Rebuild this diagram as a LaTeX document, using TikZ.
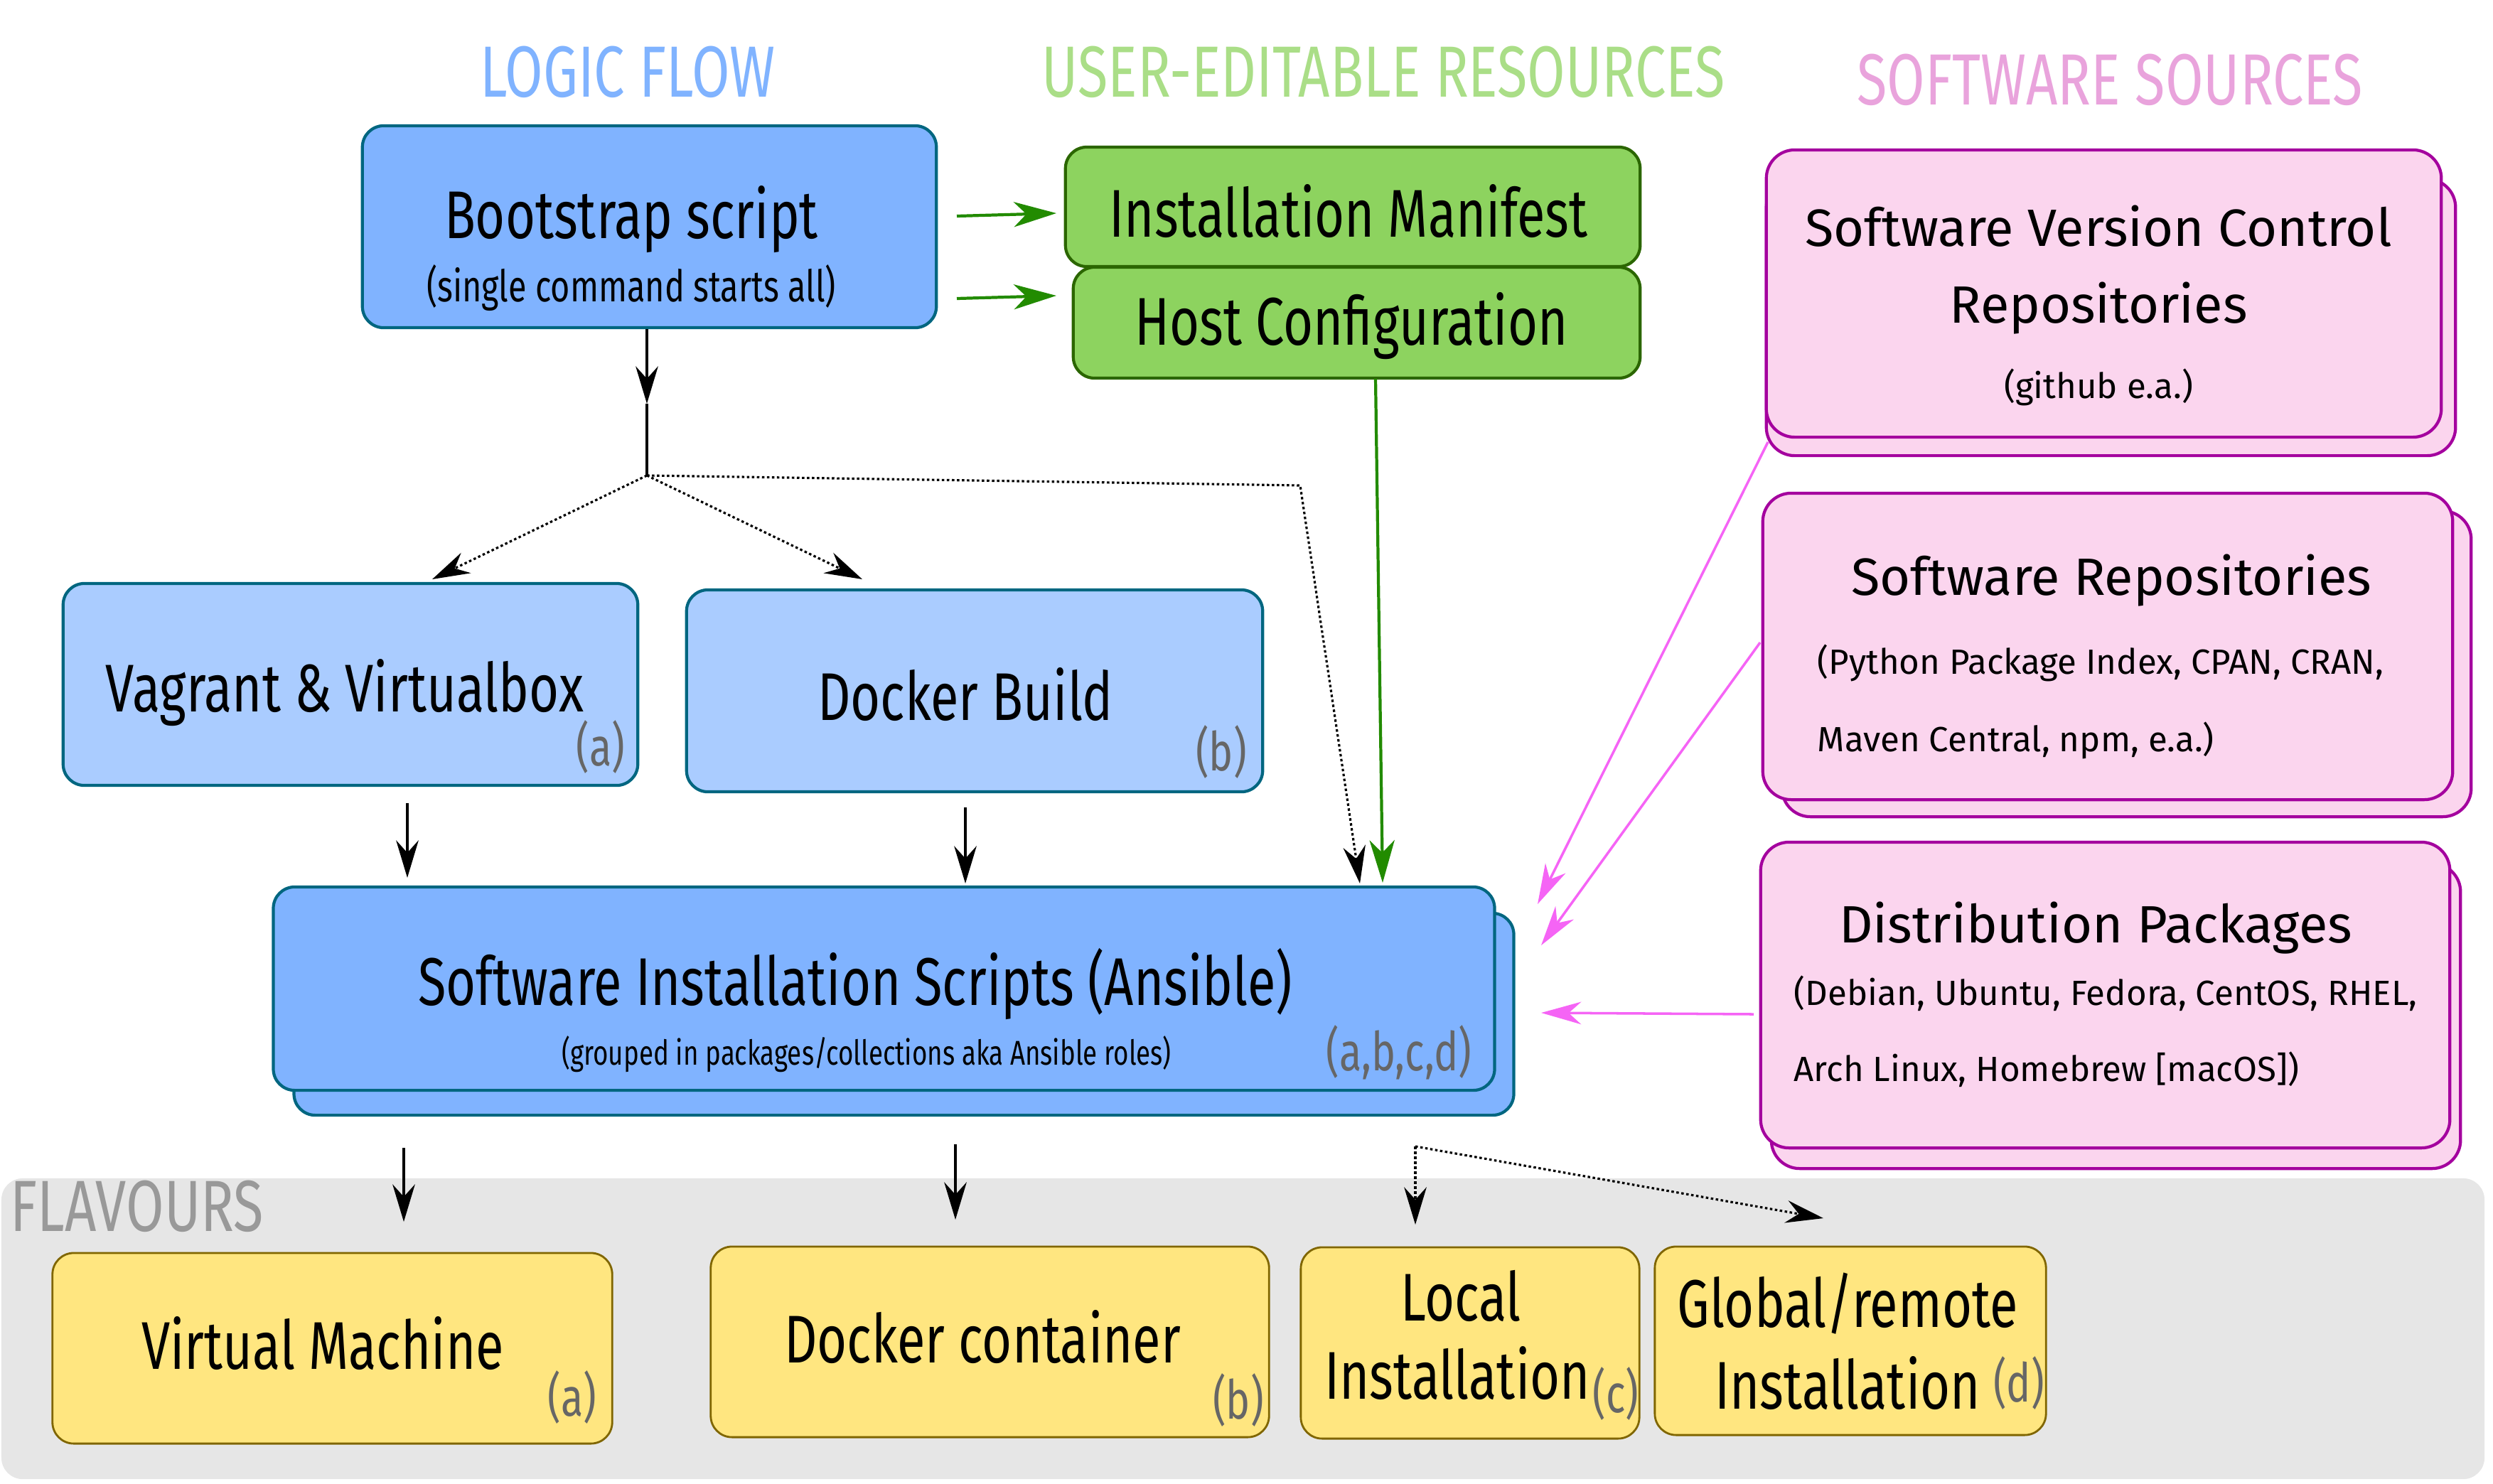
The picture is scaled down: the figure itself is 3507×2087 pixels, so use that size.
\documentclass[tikz,border=0pt]{standalone}
\usepackage{fontspec}
\setmainfont{Fira Sans}
\newfontfamily\cond[FakeStretch=0.76]{Fira Sans}
\newfontfamily\plain{Fira Sans}
\usetikzlibrary{arrows.meta}
\definecolor{cblue}{RGB}{128,179,255}
\definecolor{clblue}{RGB}{170,204,255}
\definecolor{cbborder}{RGB}{0,102,128}
\definecolor{cgreen}{RGB}{141,211,95}
\definecolor{cgborder}{RGB}{43,102,0}
\definecolor{cgarrow}{RGB}{34,139,0}
\definecolor{cpink}{RGB}{251,213,238}
\definecolor{cpborder}{RGB}{164,0,158}
\definecolor{cparrow}{RGB}{245,100,245}
\definecolor{cyellow}{RGB}{255,230,128}
\definecolor{cyborder}{RGB}{128,102,0}
\definecolor{cgrey}{RGB}{230,230,230}
\definecolor{ctblue}{RGB}{128,179,255}
\definecolor{ctgreen}{RGB}{170,222,135}
\definecolor{ctpink}{RGB}{233,163,220}
\definecolor{cletter}{RGB}{102,102,102}
\definecolor{cflav}{RGB}{153,153,153}
\begin{document}
\begin{tikzpicture}[x=0.01cm,y=-0.01cm,
  box/.style={draw, rounded corners=0.3cm, line width=1.2pt, inner sep=0pt},
  bluebox/.style={box, fill=cblue, draw=cbborder},
  lbluebox/.style={box, fill=clblue, draw=cbborder},
  greenbox/.style={box, fill=cgreen, draw=cgborder},
  pinkbox/.style={box, rounded corners=0.4cm, fill=cpink, draw=cpborder},
  yellowbox/.style={box, fill=cyellow, draw=cyborder, line width=0.8pt},
  greyzone/.style={fill=cgrey, draw=none, rounded corners=0.3cm, inner sep=0pt},
  tbig/.style={font=\cond\fontsize{27}{31}\selectfont, inner sep=0pt},
  tsmall/.style={font=\cond\fontsize{17.5}{21}\selectfont, inner sep=0pt},
  tsub/.style={font=\cond\fontsize{13.75}{16}\selectfont, inner sep=0pt},
  tletter/.style={font=\cond\fontsize{21.5}{25}\selectfont, text=cletter, inner sep=0pt},
  tpink/.style={font=\plain\fontsize{21}{25}\selectfont, inner sep=0pt},
  tpinksub/.style={font=\plain\fontsize{14}{17}\selectfont, inner sep=0pt},
  ttitle/.style={font=\cond\fontsize{29}{33}\selectfont, inner sep=0pt},
  blackarrow/.style={line width=0.9pt, -{Stealth[length=15pt,width=9pt,inset=5pt]}},
  dotarrow/.style={line width=0.9pt, dash pattern=on 1pt off 1pt, -{Stealth[length=15pt,width=9pt,inset=5pt]}},
  greenarrow/.style={draw=cgarrow, line width=1.2pt, -{Stealth[length=17pt,width=10pt,inset=5pt]}},
  pinkarrow/.style={draw=cparrow, line width=1pt, -{Stealth[length=16pt,width=9pt,inset=5pt]}}
]
\useasboundingbox (0,0) rectangle (3507,2087);

% titles
\node[ttitle, text=ctblue] (titlelogic) at (883,101) {LOGIC FLOW};
\node[ttitle, text=ctgreen] (titleuser) at (1946,101) {USER-EDITABLE RESOURCES};
\node[ttitle, text=ctpink] (titlesrc) at (2968,112) {SOFTWARE SOURCES};

% flavours zone
\node[greyzone, minimum width=34.91cm, minimum height=4.23cm] (zone) at (1748.5,1869.5) {};
\node[ttitle, text=cflav, anchor=west] (flav) at (14,1697) {FLAVOURS};

% logic flow boxes
\node[bluebox, minimum width=8.07cm, minimum height=2.84cm] (boot) at (913.5,319) {};
\node[tbig] (tboot) at (888,309) {Bootstrap script};
\node[tsmall] (tboot2) at (888,405) {(single command starts all)};

\node[greenbox, minimum width=8.08cm, minimum height=1.68cm] (manif) at (1903,291) {};
\node[tbig] (tmanif) at (1897,297) {Installation Manifest};
\node[greenbox, minimum width=7.97cm, minimum height=1.56cm] (host) at (1908.5,454) {};
\node[tbig] (thost) at (1901,459) {Host Configuration};

\node[lbluebox, minimum width=8.08cm, minimum height=2.84cm] (vag) at (493,963) {};
\node[tbig] (tvag) at (485,975) {Vagrant \& Virtualbox};
\node[tletter] (lvag) at (845,1051) {(a)};
\node[lbluebox, minimum width=8.10cm, minimum height=2.84cm] (dbuild) at (1371,972) {};
\node[tbig] (tdbuild) at (1358,977) {Docker Build};
\node[tletter] (ldbuild) at (1718,1058) {(b)};

\node[bluebox, minimum width=17.15cm, minimum height=2.84cm] (ansback) at (1271.5,1427) {};
\node[bluebox, minimum width=17.17cm, minimum height=2.86cm] (ans) at (1243.5,1391) {};
\node[tbig] (tans) at (1203,1384) {Software Installation Scripts (Ansible)};
\node[tsub] (tans2) at (1219,1483) {(grouped in packages/collections aka Ansible roles)};
\node[tletter] (lans) at (1968,1481) {(a,b,c,d)};

% software sources
\node[pinkbox, minimum width=9.69cm, minimum height=3.89cm] (svcback) at (2969.5,446.5) {};
\node[pinkbox, minimum width=9.49cm, minimum height=4.04cm] (svc) at (2959.5,413) {};
\node[tpink] (tsvc1) at (2952,318) {Software Version Control};
\node[tpink] (tsvc2) at (2952,434) {Repositories};
\node[tpinksub] (tsvc3) at (2952,545) {(github e.a.)};

\node[pinkbox, minimum width=9.69cm, minimum height=4.30cm] (srback) at (2991.5,934) {};
\node[pinkbox, minimum width=9.70cm, minimum height=4.31cm] (sr) at (2965,909.5) {};
\node[tpink] (tsr1) at (2970,817) {Software Repositories};
\node[tpinksub, anchor=west] (tsr2) at (2556,933) {(Python Package Index, CPAN, CRAN,};
\node[tpinksub, anchor=west] (tsr3) at (2556,1042) {Maven Central, npm, e.a.)};

\node[pinkbox, minimum width=9.69cm, minimum height=4.29cm] (dpback) at (2976.5,1429.5) {};
\node[pinkbox, minimum width=9.69cm, minimum height=4.30cm] (dp) at (2961.5,1400) {};
\node[tpink] (tdp1) at (2948,1306) {Distribution Packages};
\node[tpinksub, anchor=west] (tdp2) at (2523,1398) {(Debian, Ubuntu, Fedora, CentOS, RHEL,};
\node[tpinksub, anchor=west] (tdp3) at (2523,1505) {Arch Linux, Homebrew [macOS])};

% flavours
\node[yellowbox, minimum width=7.87cm, minimum height=2.68cm] (vm) at (467.5,1897) {};
\node[tbig] (tvm) at (454,1890) {Virtual Machine};
\node[tletter] (lvm) at (805,1966) {(a)};
\node[yellowbox, minimum width=7.85cm, minimum height=2.68cm] (dc) at (1392.5,1888) {};
\node[tbig] (tdc) at (1382,1881) {Docker container};
\node[tletter] (ldc) at (1742,1970) {(b)};
\node[yellowbox, minimum width=4.76cm, minimum height=2.69cm] (loc) at (2068,1889.5) {};
\node[tbig] (tloc1) at (2055,1823) {Local};
\node[tbig] (tloc2) at (2050,1932) {Installation};
\node[tletter] (lloc) at (2273,1961) {(c)};
\node[yellowbox, minimum width=5.50cm, minimum height=2.65cm] (glob) at (2603,1886.5) {};
\node[tbig] (tglob1) at (2599,1834) {Global/remote};
\node[tbig] (tglob2) at (2599,1946) {Installation};
\node[tletter] (lglob) at (2840,1946) {(d)};

% coordinates for connector ends
\coordinate (bm0) at (1346,304);  \coordinate (bm1) at (1486,300);
\coordinate (bh0) at (1346,420);  \coordinate (bh1) at (1486,416);
\coordinate (bd0) at (910,463);   \coordinate (bd1) at (910,568);
\coordinate (J) at (910,669);
\coordinate (jv) at (608,815);    \coordinate (jd) at (1213,815);
\coordinate (jk) at (1829,683);   \coordinate (ja) at (1913,1243);
\coordinate (h0) at (1935,533);   \coordinate (h1) at (1945,1242);
\coordinate (v0) at (573,1130);   \coordinate (v1) at (573,1235);
\coordinate (d0) at (1358,1136);  \coordinate (d1) at (1358,1243);
\coordinate (a0) at (568,1615);   \coordinate (a1) at (568,1719);
\coordinate (c0) at (1344,1610);  \coordinate (c1) at (1344,1716);
\coordinate (D0) at (1991,1613);  \coordinate (D1) at (1991,1723);
\coordinate (D2) at (2565,1714);
\coordinate (p10) at (2487,622);  \coordinate (p11) at (2163,1272);
\coordinate (p20) at (2476,904);  \coordinate (p21) at (2168,1330);
\coordinate (p30) at (2467,1427); \coordinate (p31) at (2168,1425);

% connectors
\draw[greenarrow] (bm0) -- (bm1);
\draw[greenarrow] (bh0) -- (bh1);
\draw[blackarrow] (bd0) -- (bd1);
\draw[line width=1.2pt] (bd1) -- (J);
\draw[dotarrow] (J) -- (jv);
\draw[dotarrow] (J) -- (jd);
\draw[dotarrow] (J) -- (jk) -- (ja);
\draw[greenarrow] (h0) -- (h1);
\draw[blackarrow] (v0) -- (v1);
\draw[blackarrow] (d0) -- (d1);
\draw[blackarrow] (a0) -- (a1);
\draw[blackarrow] (c0) -- (c1);
\draw[dotarrow] (D0) -- (D1);
\draw[dotarrow] (D0) -- (D2);
\draw[pinkarrow] (p10) -- (p11);
\draw[pinkarrow] (p20) -- (p21);
\draw[pinkarrow] (p30) -- (p31);
\end{tikzpicture}
\end{document}
